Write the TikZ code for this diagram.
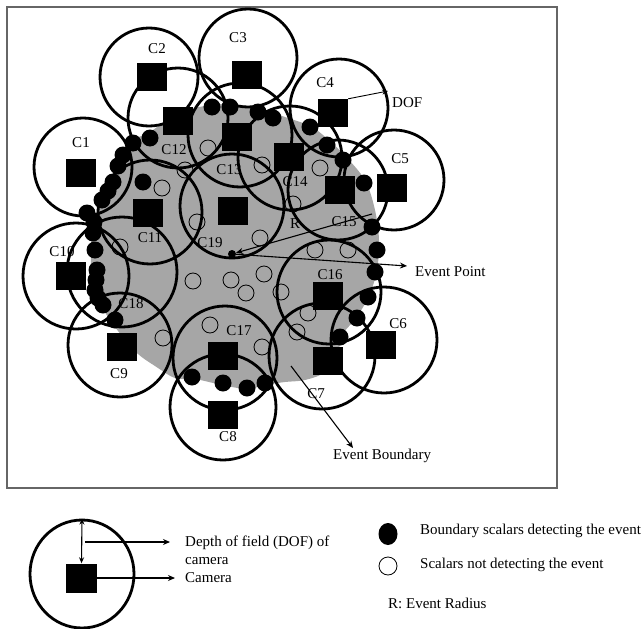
\documentclass[tikz,border=0pt]{standalone}
\usepackage{fontspec}
\setmainfont{Liberation Serif}
\usetikzlibrary{arrows.meta,shapes.geometric}
\begin{document}
\begin{tikzpicture}[x=1pt,y=-1pt,
  dofc/.style={draw=black,line width=2.8pt,circle,inner sep=0pt},
  cam/.style={fill=black,draw=none,rectangle,minimum width=30pt,minimum height=28pt,inner sep=0pt},
  lbl/.style={font=\fontsize{15}{17}\selectfont,inner sep=0pt},
  bdot/.style={fill=black,circle,inner sep=0pt,minimum size=17pt},
  hdot/.style={draw=black,line width=0.8pt,circle,inner sep=0pt,minimum size=16pt},
  arr/.style={line width=1.1pt,-{Stealth[length=7pt,width=6pt]}},
]
\useasboundingbox (0,0) rectangle (643,629);
\draw[black!60,line width=1.2pt] (7,7) rectangle (557,488);

% event region
\fill[black!35] plot[smooth cycle, tension=0.55] coordinates {
(130,142) (150,132) (170,118) (195,108) (225,104) (258,108) (285,117) (312,127)
(333,144) (350,161) (366,182) (375,210) (379,240) (377,270) (369,296) (356,318)
(342,335) (338,352) (325,372) (305,380) (285,382) (265,385) (247,389) (222,385)
(195,379) (175,378) (155,366) (138,354) (122,336) (110,320) (100,304) (93,288)
(91,268) (91,248) (92,230) (98,210) (106,195) (113,178) (120,160)};

% scalars not detecting the event
\foreach \p [count=\i] in {(208,148),(185,170),(162,188),(197,222),(262,165),(320,168),(293,204),(260,238),(315,250),(348,250),(120,247),(193,281),(231,280),(264,274),(281,292),(246,293),(210,325),(163,338),(262,347),(297,332),(308,313)}
  \node[hdot] (h\i) at \p {};

% camera fields of view
\node[dofc,minimum size=98pt]  (k1)  at (83,167) {};
\node[dofc,minimum size=98pt]  (k2)  at (149,77) {};
\node[dofc,minimum size=98pt]  (k3)  at (248,58) {};
\node[dofc,minimum size=98pt]  (k4)  at (339,108) {};
\node[dofc,minimum size=100pt] (k5)  at (394,180) {};
\node[dofc,minimum size=106pt] (k6)  at (384,340) {};
\node[dofc,minimum size=106pt] (k7)  at (322,356) {};
\node[dofc,minimum size=106pt] (k8)  at (223,407) {};
\node[dofc,minimum size=104pt] (k9)  at (120,345) {};
\node[dofc,minimum size=106pt] (k10) at (76,276) {};
\node[dofc,minimum size=104pt] (k11) at (150,212) {};
\node[dofc,minimum size=100pt] (k12) at (178,118) {};
\node[dofc,minimum size=104pt] (k13) at (240,135) {};
\node[dofc,minimum size=104pt] (k14) at (290,158) {};
\node[dofc,minimum size=100pt] (k15) at (338,190) {};
\node[dofc,minimum size=104pt] (k16) at (329,292) {};
\node[dofc,minimum size=104pt] (k17) at (225,358) {};
\node[dofc,minimum size=110pt] (k18) at (122,272) {};
\node[dofc,minimum size=104pt] (k19) at (232,206) {};

% boundary scalars detecting the event
\foreach \p [count=\i] in {(133,143),(150,138),(123,155),(118,166),(113,182),(108,191),(102,200),(87,213),(143,182),(94,222),(93,233),(95,250),(97,270),(96,280),(95,290),(98,298),(103,305),(115,320),(212,107),(230,107),(258,112),(273,118),(310,127),(327,145),(343,160),(364,183),(372,227),(377,250),(375,272),(368,297),(357,318),(340,337),(192,377),(223,383),(247,388),(265,383)}
  \node[bdot] (b\i) at \p {};

% cameras
\node[cam] (s1)  at (81,173) {};
\node[cam] (s2)  at (152,77) {};
\node[cam] (s3)  at (247,75) {};
\node[cam] (s4)  at (333,113) {};
\node[cam] (s5)  at (392,188) {};
\node[cam] (s6)  at (381,345) {};
\node[cam] (s7)  at (328,361) {};
\node[cam] (s8)  at (223,415) {};
\node[cam] (s9)  at (122,347) {};
\node[cam] (s10) at (71,276) {};
\node[cam] (s11) at (148,213) {};
\node[cam] (s12) at (178,121) {};
\node[cam] (s13) at (237,137) {};
\node[cam] (s14) at (289,157) {};
\node[cam] (s15) at (340,190) {};
\node[cam] (s16) at (328,296) {};
\node[cam] (s17) at (223,356) {};
\node[cam] (s19) at (233,211) {};

% camera labels
\node[lbl] (l1)  at (81,143) {C1};
\node[lbl] (l2)  at (157,49) {C2};
\node[lbl] (l3)  at (238,38) {C3};
\node[lbl] (l4)  at (325,83) {C4};
\node[lbl] (l5)  at (400,159) {C5};
\node[lbl] (l6)  at (398,324) {C6};
\node[lbl] (l7)  at (316,394) {C7};
\node[lbl] (l8)  at (228,437) {C8};
\node[lbl] (l9)  at (119,374) {C9};
\node[lbl] (l10) at (62,252) {C10};
\node[lbl] (l11) at (150,238) {C11};
\node[lbl] (l12) at (174,150) {C12};
\node[lbl] (l13) at (229,170) {C13};
\node[lbl] (l14) at (295,182) {C14};
\node[lbl] (l15) at (344,222) {C15};
\node[lbl] (l16) at (330,275) {C16};
\node[lbl] (l17) at (239,331) {C17};
\node[lbl] (l18) at (131,304) {C18};
\node[lbl] (l19) at (210,243) {C19};

% DOF annotation
\coordinate (dofend) at (388,91);
\draw[line width=0.9pt,-{Stealth[length=6pt,width=5pt]}] (s4.north east) -- (dofend);
\node[lbl,anchor=west] (dof) at (392,103) {DOF};

% event point and radius
\node[fill=black,circle,inner sep=0pt,minimum size=8pt] (ep) at (232,254) {};
\coordinate (rb) at (372,214);
\draw[arr] (rb) -- (ep);
\node[lbl] (rl) at (295,224) {R};
\coordinate (epe) at (407,266);
\draw[arr] (ep) -- (epe);
\node[lbl,anchor=west] (ept) at (415,272) {Event Point};

% event boundary
\coordinate (ebs) at (291,366);
\coordinate (ebe) at (353,448);
\draw[arr] (ebs) -- (ebe);
\node[lbl,anchor=west] (ebt) at (333,456) {Event Boundary};

% legend
\node[ellipse,draw=black,line width=2.8pt,minimum width=104pt,minimum height=108pt,inner sep=0pt] (lgc) at (82,574) {};
\node[cam,minimum width=31pt,minimum height=29pt] (lgs) at (81.5,578) {};
\draw[line width=1.1pt,{Stealth[length=6pt,width=5pt]}-{Stealth[length=6pt,width=5pt]}] (lgc.north) -- (lgs.north);
\coordinate (d1s) at (85,542);
\coordinate (d1e) at (170,542);
\draw[arr] (d1s) -- (d1e);
\coordinate (d2e) at (175,578);
\draw[arr] (lgs.east) -- (d2e);
\node[lbl,anchor=west] (t1) at (185,543) {Depth of field (DOF) of};
\node[lbl,anchor=west] (t2) at (185,561) {camera};
\node[lbl,anchor=west] (t3) at (185,578) {Camera};

\node[ellipse,fill=black,inner sep=0pt,minimum width=19pt,minimum height=22pt] (lgb) at (388,534) {};
\node[circle,draw=black,line width=0.8pt,inner sep=0pt,minimum size=18pt] (lgh) at (388,566) {};
\node[lbl,anchor=west] (t4) at (420,531) {Boundary scalars detecting the event};
\node[lbl,anchor=west] (t5) at (420,565) {Scalars not detecting the event};
\node[lbl,anchor=west] (t6) at (388,603) {R: Event Radius};
\end{tikzpicture}
\end{document}
